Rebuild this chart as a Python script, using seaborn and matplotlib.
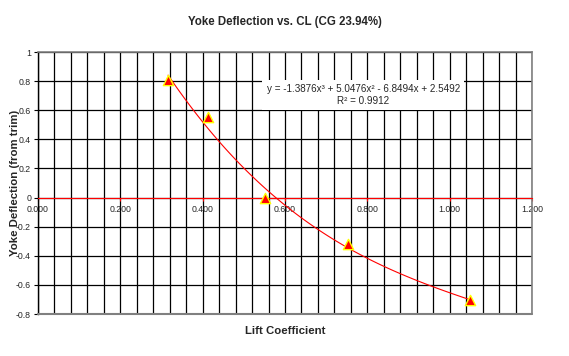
import numpy as np
import pandas as pd
import matplotlib
matplotlib.use("Agg")
import matplotlib.pyplot as plt
import seaborn as sns
from matplotlib.ticker import MultipleLocator, FormatStrFormatter, FuncFormatter

# values
lift_coef = [0.316, 0.414, 0.551, 0.754, 1.049]
yoke_defl = [0.81, 0.55, -0.005, -0.322, -0.705]
eq_line1 = "y = -1.3876x³ + 5.0476x² - 6.8494x + 2.5492"
eq_line2 = "R² = 0.9912"

df = pd.DataFrame({"cl": lift_coef, "defl": yoke_defl})

sns.set_style("white")
plt.rcParams["font.family"] = ["Liberation Sans", "DejaVu Sans"]
plt.rcParams["axes.unicode_minus"] = False

fig = plt.figure(figsize=(5.69, 3.56), dpi=100)
ax = fig.add_axes([38 / 569, 1 - 314 / 356, 494 / 569, 262 / 356])

# cubic trendline + markers
sns.regplot(data=df, x="cl", y="defl", order=3, ci=None, scatter=False,
            line_kws={"color": "red", "lw": 0.8, "zorder": 3}, ax=ax)
sns.scatterplot(data=df, x="cl", y="defl", marker="^", s=55, color="red",
                edgecolor="#ffff00", linewidth=1.0, zorder=4, ax=ax)

ax.set_xlim(0, 1.2)
ax.set_ylim(-0.8, 1.0)

# grid
ax.xaxis.set_major_locator(MultipleLocator(0.2))
ax.xaxis.set_minor_locator(MultipleLocator(0.04))
ax.yaxis.set_major_locator(MultipleLocator(0.2))
ax.set_axisbelow(True)
ax.grid(which="both", axis="x", color="black", lw=0.9)
ax.grid(which="major", axis="y", color="black", lw=0.9)

# x axis crosses at y = 0
ax.spines["bottom"].set_position(("data", 0))
ax.spines["bottom"].set_color("red")
ax.spines["bottom"].set_linewidth(0.8)
ax.spines["bottom"].set_zorder(2.5)
ax.spines["left"].set_color("black")
ax.spines["left"].set_linewidth(1.0)
for s in ["top", "right"]:
    ax.spines[s].set_color("#808080")
    ax.spines[s].set_linewidth(1.2)
ax.axhline(-0.8, color="#808080", lw=1.5, clip_on=False, zorder=2.6)

ax.xaxis.set_major_formatter(FormatStrFormatter("%.3f"))
ax.yaxis.set_major_formatter(FuncFormatter(lambda v, p: f"{v:g}"))
ax.tick_params(axis="x", which="major", direction="out", length=2, color="red",
               labelsize=6.3, pad=3, bottom=True)
ax.tick_params(axis="x", which="minor", length=0)
ax.tick_params(axis="y", direction="out", length=3, color="black",
               labelsize=6.3, pad=2, left=True)

ax.set_xlabel("Lift Coefficient", fontsize=8.2, fontweight="bold")
ax.xaxis.set_label_coords(0.5, -0.045)
ax.set_ylabel("Yoke Deflection (from trim)", fontsize=8.2, fontweight="bold")
ax.yaxis.set_label_coords(-0.036, 0.5)

fig.text(285 / 569, 1 - 22 / 356, "Yoke Deflection vs. CL (CG 23.94%)",
         ha="center", va="center", fontsize=8.3, fontweight="bold")

ax.text(0.79, 0.705, eq_line1 + "\n" + eq_line2, ha="center", va="center",
        fontsize=7.1, linespacing=1.25, zorder=5,
        bbox=dict(facecolor="white", edgecolor="none", pad=3))

fig.savefig("out.png", dpi=100)
